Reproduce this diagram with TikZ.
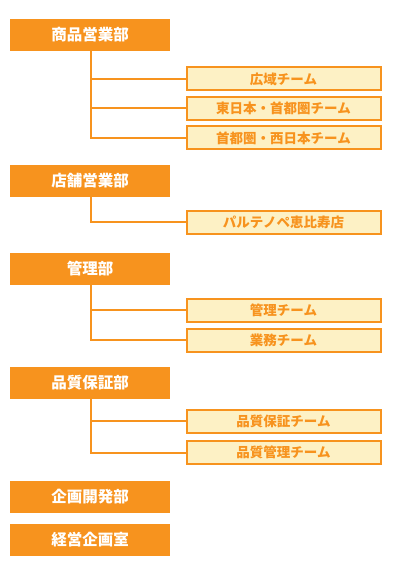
\documentclass[tikz,border=0pt]{standalone}
\usepackage{fontspec}
\setmainfont{Noto Sans CJK JP}
\definecolor{org}{HTML}{F7931E}
\definecolor{pale}{HTML}{FDF1C5}
\begin{document}
\begin{tikzpicture}[x=1pt,y=-1pt,
  dept/.style={rectangle, fill=org, draw=none, minimum width=160pt, minimum height=32pt, inner sep=0pt,
    text=white, font=\fontsize{15.5}{16}\selectfont\bfseries},
  team/.style={rectangle, fill=pale, draw=org, line width=2pt, minimum width=194pt, minimum height=23pt, inner sep=0pt,
    text=org, font=\fontsize{13.5}{14}\selectfont\bfseries},
  conn/.style={draw=org, line width=2pt}]
\useasboundingbox (0,0) rectangle (400,572);
\coordinate (vx) at (91,0);
% departments
\node[dept] (d1) at (90,35) {商品営業部};
\node[dept] (d2) at (90,181) {店舗営業部};
\node[dept] (d3) at (90,269) {管理部};
\node[dept] (d4) at (90,383) {品質保証部};
\node[dept] (d5) at (90,497) {企画開発部};
\node[dept] (d6) at (90,540) {経営企画室};
% teams
\node[team] (t11) at (283.5,79) {広域チーム};
\node[team] (t12) at (283.5,108.5) {東日本・首都圏チーム};
\node[team] (t13) at (283.5,138) {首都圏・西日本チーム};
\node[team] (t21) at (283.5,222) {パルテノペ恵比寿店};
\node[team] (t31) at (283.5,310) {管理チーム};
\node[team] (t32) at (283.5,340.3) {業務チーム};
\node[team] (t41) at (283.5,421.3) {品質保証チーム};
\node[team] (t42) at (283.5,452.8) {品質管理チーム};
% connectors
\draw[conn] (d1.south -| vx) |- (t13.west);
\draw[conn] (t11.west -| vx) -- (t11.west);
\draw[conn] (t12.west -| vx) -- (t12.west);
\draw[conn] (d2.south -| vx) |- (t21.west);
\draw[conn] (d3.south -| vx) |- (t32.west);
\draw[conn] (t31.west -| vx) -- (t31.west);
\draw[conn] (d4.south -| vx) |- (t42.west);
\draw[conn] (t41.west -| vx) -- (t41.west);
\end{tikzpicture}
\end{document}
